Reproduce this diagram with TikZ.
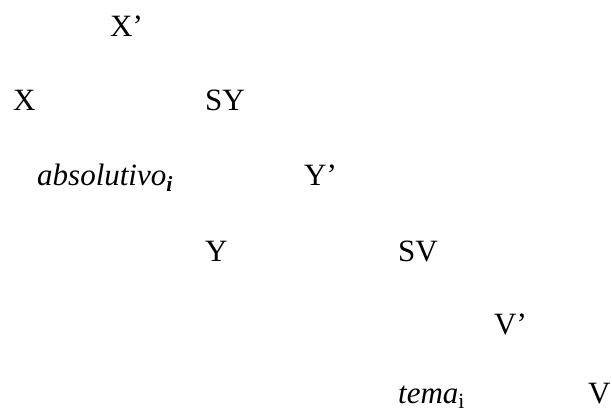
\documentclass[tikz,border=0pt]{standalone}
\usepackage{fontspec}
\setmainfont{Liberation Serif}[
  UprightFont=*,
  ItalicFont=* Italic,
  BoldFont=* Bold,
  BoldItalicFont=* Bold Italic]
\begin{document}
\begin{tikzpicture}[x=1pt,y=-1pt,
  lbl/.style={anchor=base west, inner sep=0pt, font=\fontsize{31}{37}\selectfont}]
\useasboundingbox (0,0) rectangle (612,414);
\node[lbl] (xbar) at (110,37) {X’};
\node[lbl] (x) at (13,111) {X};
\node[lbl] (sy) at (205,111) {SY};
\node[lbl] (abs) at (37,185) {\itshape absolutivo\textsubscript{\bfseries i}};
\node[lbl] (ybar) at (304,185) {Y’};
\node[lbl] (y) at (205,261) {Y};
\node[lbl] (sv) at (398,261) {SV};
\node[lbl] (vbar) at (494,334) {V’};
\node[lbl] (tema) at (398,403) {\textit{tema}\textsubscript{i}};
\node[lbl] (v) at (588,403) {V};
\end{tikzpicture}
\end{document}
